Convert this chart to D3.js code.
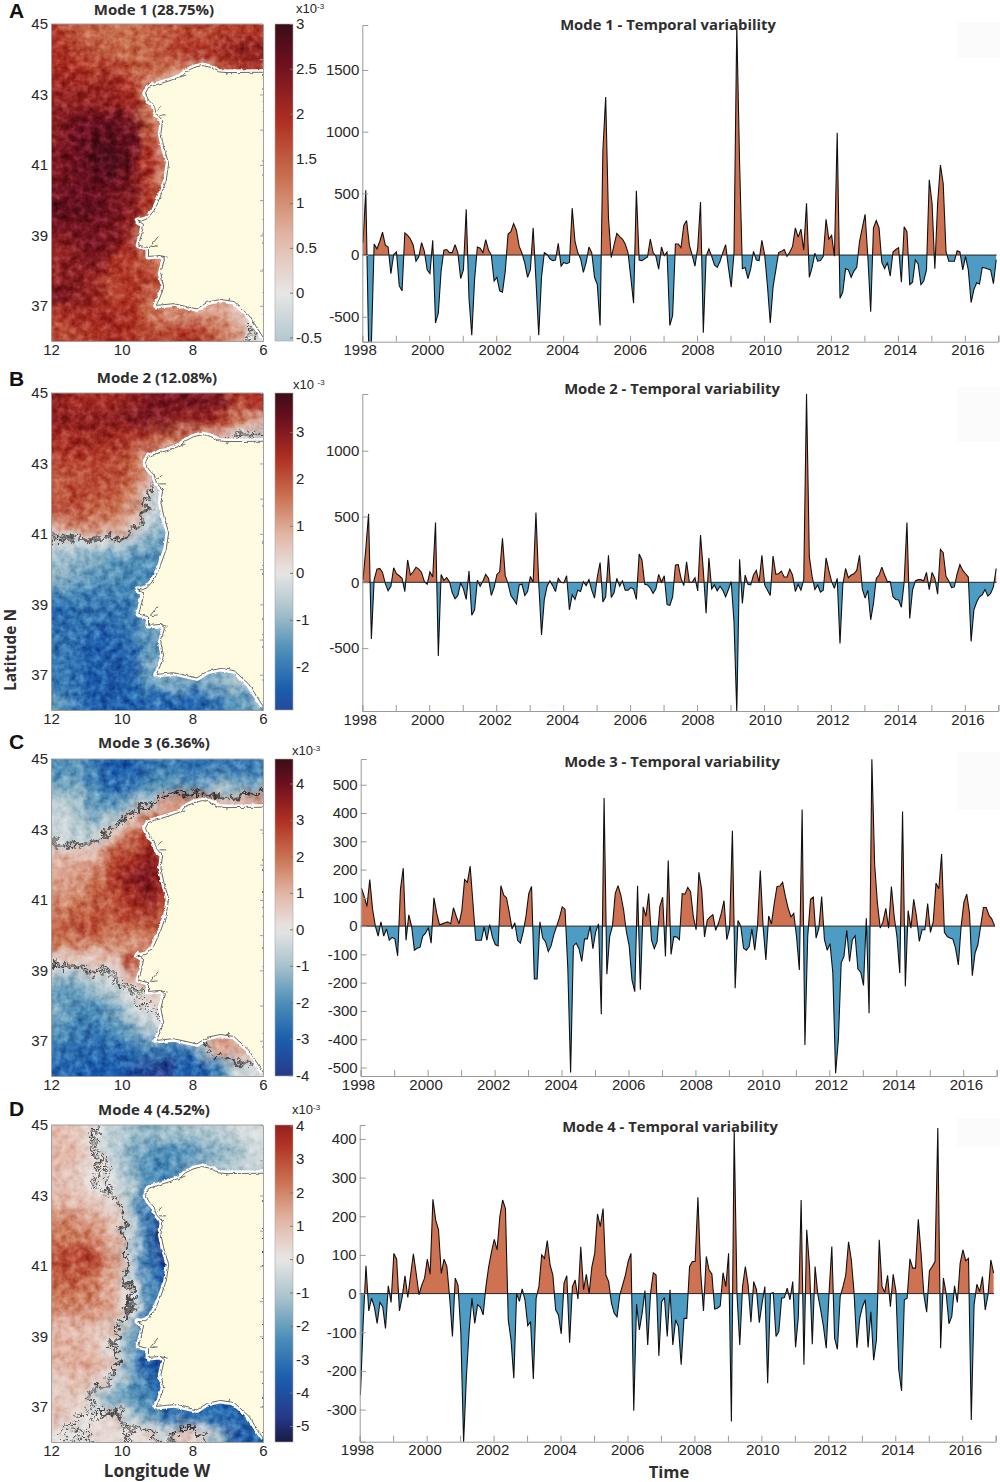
<!DOCTYPE html>
<html>
<head>
<meta charset="utf-8">
<script src="https://cdn.jsdelivr.net/npm/d3@7"></script>
<style>
  html, body { margin: 0; padding: 0; background: #fff; }
  text { font-family: "Liberation Sans", Arial, sans-serif; fill: #262626; }
  .num text { font-family: "Liberation Sans", Arial, sans-serif; font-size: 15px; }
  .bold { font-family: "Open Sans", sans-serif; font-weight: 700; fill: #2e2e2e; }
  .letter { font-family: "Liberation Sans", Arial, sans-serif; font-weight: 700; font-size: 21px; fill: #111; }
</style>
</head>
<body>
<svg id="fig" width="1000" height="1482"></svg>
<script>
// monthly temporal amplitudes, one row per year 1998-2016
const seriesA = [
  100,524,-700,-720,90,50,110,185,80,65,-150,5,
  25,-250,-290,180,160,130,80,-50,-15,100,30,-120,
  -150,120,-550,-470,-130,40,45,20,20,85,20,-190,
  -120,370,-350,-650,-200,65,55,20,125,40,0,-210,
  -180,-290,-300,-130,170,190,255,200,70,15,-65,-180,
  -120,220,-200,-650,-180,20,5,-30,-45,-40,95,-90,
  -60,-70,-60,380,110,20,-30,-140,-60,65,20,-180,
  -240,-570,850,1280,300,-20,80,175,150,130,90,20,
  -180,-390,520,-40,-45,-30,-15,130,20,-10,-115,65,
  -5,25,-570,-490,90,90,60,240,280,80,0,-90,
  60,430,-630,-10,50,-10,-80,-100,-50,20,85,-100,
  -260,20,1860,750,-110,-100,-190,-110,30,-40,-45,120,
  0,-250,-550,-260,-120,20,30,45,-10,25,70,220,
  145,210,40,420,-180,-100,15,-50,-45,-10,290,130,
  160,-10,990,-350,-300,-110,-120,-180,-130,-100,110,220,
  330,-20,-460,220,280,220,-60,-110,-60,-170,25,45,
  60,-220,230,190,-240,-220,-40,-70,-240,-210,-120,610,
  420,-110,420,730,580,30,-50,-50,-50,35,25,-120,
  -10,-120,-385,-280,-225,-235,-100,-105,-113,-120,-232,-38
];
const seriesB = [
  20,250,520,-430,20,100,105,75,-10,-65,-30,110,
  65,50,30,-70,170,55,80,115,100,75,5,-15,
  80,40,455,-560,60,15,35,5,-80,-125,-100,-5,
  -50,-130,85,-250,-210,15,-30,10,60,30,-100,-40,
  60,80,335,50,-10,-100,-130,-165,-20,-15,-100,-70,
  45,0,530,-5,-400,-130,-30,10,-25,-70,30,0,
  -5,50,-210,-95,-130,-60,-70,5,-25,20,-60,-120,
  40,150,-150,-110,205,-115,-80,30,-30,10,-60,-60,
  -40,-50,-130,215,170,-15,-20,-45,-85,-50,60,0,
  50,-170,-175,-110,130,135,30,-25,155,0,0,35,
  -65,360,90,-235,185,-50,-20,-65,-30,-60,-110,-55,
  5,-300,-985,175,-160,55,-15,-20,55,90,0,205,
  -20,-60,-100,200,60,65,85,40,40,100,55,-70,
  -15,-60,20,1430,195,45,-55,-20,-75,-60,185,90,
  5,-45,30,-465,-20,105,35,55,65,90,205,-50,
  -120,-60,-285,-160,30,55,115,55,5,5,-110,-130,
  -135,-190,0,455,-275,-60,10,20,20,10,75,-55,
  75,30,-90,250,225,45,10,-40,-35,65,135,90,
  65,40,-450,-210,-150,-110,-95,-55,-105,-85,-35,105
];
const seriesC = [
  135,105,70,165,60,0,-35,15,-35,-10,-50,-40,
  -45,-105,130,205,-50,40,0,-85,-78,-75,-35,-25,
  -5,-60,100,45,5,8,12,15,8,65,35,8,
  55,165,155,212,80,-50,-50,-50,-3,-50,5,-40,
  -65,-70,143,110,100,50,-10,12,-50,-60,-20,35,
  115,140,-187,-187,15,-42,-55,-90,-70,-30,0,30,
  68,60,-150,-518,-70,-60,-80,-125,-45,-45,0,-80,
  -20,8,-312,453,-170,-37,0,115,143,110,57,-20,
  -70,-190,-232,143,-225,68,35,115,-50,-80,-55,70,
  102,-107,232,-100,-37,-38,-48,115,113,137,122,33,
  -13,190,128,-38,22,33,40,-15,10,45,90,-48,
  -7,337,-220,20,0,-78,-85,-72,-10,-85,0,197,
  0,-120,36,8,80,140,142,155,105,63,33,45,
  -37,-155,412,-420,-37,95,103,-42,-7,105,-48,-85,
  -62,-165,-520,-400,-130,-107,-15,-125,-48,-34,-152,-163,
  -210,28,-308,590,217,80,-7,16,63,-7,140,34,
  -37,-166,405,-213,55,-7,95,34,-54,-13,-13,80,
  -22,16,152,132,255,-22,-37,-42,-45,-78,-137,0,
  85,113,46,-175,-95,-66,0,66,66,38,25,1
];
const seriesD = [
  -262,-75,72,-45,-12,-34,-77,-23,-34,-90,20,-23,
  104,89,-45,-8,46,-10,48,103,52,-3,22,40,
  89,50,244,190,165,52,89,70,-10,-111,40,22,
  -100,-385,-215,-94,-12,-77,-29,-35,-55,18,70,108,
  140,113,200,242,220,-68,-120,-219,0,-20,12,-16,
  -83,-72,-221,-12,18,100,91,137,74,48,-42,-55,
  -104,27,46,-127,18,35,-14,121,10,50,0,70,
  104,206,173,220,48,31,-25,-51,-60,-3,22,48,
  83,104,-303,-27,-94,-51,8,-133,0,54,48,-161,
  -21,-10,-111,10,-133,-68,-85,-184,-64,-64,70,83,
  83,249,53,-45,96,61,51,-40,-38,-32,54,18,
  104,-331,423,0,-133,18,70,22,-74,31,10,-75,
  -25,18,-232,0,3,-111,-98,-12,-10,14,-16,31,
  -139,-60,242,-184,165,70,-131,70,-3,-42,-85,-141,
  0,122,-115,-144,-8,18,48,134,87,0,-140,-64,
  -34,-16,-139,-47,-172,-120,139,18,3,47,-34,50,
  5,-197,-252,-16,-12,90,66,66,192,104,-3,-48,
  59,70,83,428,-141,40,0,-78,-59,20,-23,78,
  113,85,91,-327,-29,24,5,44,-42,-3,87,53
];

// spatial loadings (x10-3), 0.5 degree cells, north to south, 12W to 6W
const gridA = [
  [1.8,1.5,1.4,1.3,1.3,1.4,1.5,1.6,1.6,1.7,1.8,1.8],
  [1.9,1.7,1.5,1.4,1.3,1.4,1.6,1.9,1.9,2.0,2.2,2.2],
  [2.0,1.9,1.8,1.7,1.5,1.4,1.3,1.0,0.8,1.5,1.8,1.8],
  [2.1,2.1,2.1,2.1,1.9,1.0,0.7,0.7,0.7,0.7,0.7,0.7],
  [2.2,2.2,2.2,2.2,2.0,1.1,0.8,0.7,0.7,0.7,0.7,0.7],
  [2.3,2.5,2.6,2.6,2.5,1.3,0.8,0.7,0.7,0.7,0.7,0.7],
  [2.3,2.6,2.7,2.8,2.6,1.7,0.9,0.7,0.7,0.7,0.7,0.7],
  [2.4,2.6,2.8,2.9,2.6,1.9,0.9,0.7,0.7,0.7,0.7,0.7],
  [2.4,2.6,2.7,2.8,2.5,1.9,1.0,0.8,0.8,0.8,0.8,0.8],
  [2.5,2.6,2.6,2.5,2.4,1.8,1.0,0.8,0.8,0.8,0.8,0.8],
  [2.7,2.7,2.7,2.5,2.3,1.8,1.0,0.8,0.8,0.8,0.8,0.8],
  [2.5,2.5,2.5,2.4,2.2,1.0,0.7,0.7,0.7,0.7,0.7,0.7],
  [2.2,2.4,2.5,2.4,2.0,0.9,0.7,0.7,0.7,0.7,0.7,0.7],
  [2.2,2.3,2.4,1.9,1.8,1.5,0.9,0.8,0.8,0.8,0.8,0.8],
  [2.2,2.3,2.1,1.7,1.9,1.7,1.5,1.0,0.8,0.8,0.8,0.8],
  [2.5,2.3,2.1,1.7,1.9,1.5,1.0,1.0,0.7,0.7,0.7,0.7],
  [1.8,2.0,2.0,2.0,1.9,1.3,1.0,1.0,1.0,0.8,0.5,0.3],
  [1.6,1.7,1.9,2.0,1.9,1.7,1.6,1.9,1.7,1.4,0.8,-0.1]
];
const gridB = [
  [2.8,2.6,2.6,2.6,2.8,3.0,3.1,3.2,3.1,3.1,2.2,2.5],
  [2.8,2.8,2.8,2.9,3.0,3.1,3.0,2.7,2.7,2.3,1.4,1.0],
  [2.6,2.6,2.7,2.6,2.5,2.2,1.7,1.4,1.2,0.8,-0.1,-0.3],
  [2.2,2.4,2.3,2.2,1.8,1.1,0.7,-0.6,-0.6,-0.6,-0.6,-0.6],
  [2.0,2.1,2.1,2.1,1.8,1.2,-0.5,-1,-1,-1,-1,-1],
  [1.9,2.1,2.1,2.0,1.6,0.2,-0.9,-1,-1,-1,-1,-1],
  [2.1,2.2,1.8,1.7,1.3,-0.4,-0.7,-0.8,-0.8,-0.8,-0.8,-0.8],
  [1.0,1.4,1.4,1.3,0.5,-0.4,-1.0,-1,-1,-1,-1,-1],
  [-0.2,-0.3,-0.2,-0.3,-0.9,-1.2,-1.4,-1.2,-1.2,-1.2,-1.2,-1.2],
  [-1.0,-1.1,-1.2,-1.6,-1.5,-1.6,-1.5,-1.2,-1.2,-1.2,-1.2,-1.2],
  [-1.0,-1.3,-1.5,-1.5,-1.8,-1.8,-1.6,-1.3,-1.3,-1.3,-1.3,-1.3],
  [-1.8,-1.8,-1.9,-2.0,-1.8,-1.0,-1.0,-1,-1,-1,-1,-1],
  [-2.3,-2.1,-2.0,-2.1,-2.0,-1.1,-1.0,-1,-1,-1,-1,-1],
  [-2.1,-2.1,-2.3,-2.2,-2.0,-1.4,-1.2,-1.2,-1.2,-1.2,-1.2,-1.2],
  [-2.0,-2.2,-2.5,-2.5,-2.2,-1.5,-1.4,-1.4,-1.4,-1.4,-1.4,-1.4],
  [-2.0,-2.2,-2.4,-2.7,-2.5,-1.2,-1.1,-1.1,-1.1,-1.1,-1.1,-1.1],
  [-2.0,-2.2,-2.5,-2.6,-2.3,-1.6,-1.2,-1.3,-1.3,-1.1,-0.8,-0.6],
  [-1.5,-2.1,-2.3,-2.5,-2.4,-2.3,-2.3,-2.4,-2.3,-2.0,-1.6,-1.2]
];
const gridC = [
  [-2.0,-1.8,-2.5,-3.0,-3.0,-2.5,-2.2,-2.5,-2.6,-2.4,-2.4,-2.4],
  [-1.5,-1.5,-2.2,-2.8,-2.5,-2.0,-1.8,-2.0,-1.5,-1.2,-1.3,-1.5],
  [-0.6,-1.0,-1.8,-2.0,-1.2,-0.5,1.2,1.8,1.5,0.8,0.8,1.4],
  [-0.5,-0.8,-1.2,-0.5,0.8,1.8,2.0,1.5,1.5,1.5,1.5,1.5],
  [-0.3,-0.6,-0.5,1.0,2.0,2.8,2.3,1.5,1.5,1.5,1.5,1.5],
  [0.8,0.8,1.0,2.2,3.0,3.4,2.6,1.5,1.5,1.5,1.5,1.5],
  [1.2,1.3,1.8,3.0,3.4,3.8,3.2,2,2,2,2,2],
  [1.5,1.5,2.0,2.6,3.2,3.7,3.0,2,2,2,2,2],
  [1.6,2.0,2.3,2.4,3.0,3.3,2.4,2,2,2,2,2],
  [2.2,2.5,2.6,2.0,2.1,2.2,2.0,2,2,2,2,2],
  [2.0,1.6,1.8,1.5,1.6,1.4,1.8,1.8,1.8,1.8,1.8,1.8],
  [0.2,0.3,0.6,0.5,2.5,2.0,1.2,1.2,1.2,1.2,1.2,1.2],
  [-1.2,-1.2,-0.5,-0.2,0.6,1.8,1.0,1,1,1,1,1],
  [-1.8,-1.8,-1.5,-1.0,-0.2,0.3,0.6,0.6,0.6,0.6,0.6,0.6],
  [-1.5,-2.2,-2.2,-1.6,-0.8,-0.2,0.1,0.1,0.1,0.1,0.1,0.1],
  [-2.0,-2.3,-2.6,-2.2,-1.7,-0.8,-0.6,-0.6,1.2,1.2,1.2,1.2],
  [-2.5,-2.6,-2.8,-2.8,-2.6,-2.3,-2.4,-2.6,-1.0,1.2,1.2,1.0],
  [-2.8,-2.9,-3.0,-3.0,-3.2,-3.6,-3.8,-3.0,-3.0,-2.2,-0.5,-0.2]
];
const gridD = [
  [1.0,0.8,0.0,-0.8,-1.2,-1.5,-1.3,-1.2,-0.9,-1.0,-0.5,-0.2],
  [1.1,1.0,0.2,-0.8,-1.6,-2.0,-2.4,-2.4,-1.8,-1.5,-1.2,-0.5],
  [1.0,0.6,0.2,-0.2,-1.5,-2.4,-2.5,-2.0,-1.5,-1.2,-0.8,-0.5],
  [0.9,0.7,0.0,-0.2,-1.0,-2.2,-3.0,-2.5,-2.5,-2.5,-2.5,-2.5],
  [1.2,1.0,0.7,0.4,-1.0,-3.0,-3.6,-3,-3,-3,-3,-3],
  [2.1,1.9,1.6,0.8,-0.8,-2.8,-4.5,-3.5,-3.5,-3.5,-3.5,-3.5],
  [2.3,2.2,1.9,1.2,-0.6,-2.8,-4.8,-4,-4,-4,-4,-4],
  [3.0,3.2,3.2,1.6,-0.6,-2.9,-4.6,-3.8,-3.8,-3.8,-3.8,-3.8],
  [2.6,2.8,2.3,1.4,-0.5,-2.8,-3.6,-3.5,-3.5,-3.5,-3.5,-3.5],
  [2.3,2.3,1.9,1.2,0.0,-2.0,-3.2,-3,-3,-3,-3,-3],
  [1.9,1.9,1.8,1.6,-0.1,-2.5,-3.0,-3,-3,-3,-3,-3],
  [1.0,1.0,0.8,0.8,-1.2,-3.5,-3.5,-3.5,-3.5,-3.5,-3.5,-3.5],
  [1.2,1.2,0.8,-0.1,-2.0,-3.6,-4.2,-4,-4,-4,-4,-4],
  [1.2,1.3,1.3,0.6,-1.6,-3.5,-4.2,-4,-4,-4,-4,-4],
  [0.5,1.1,0.7,-0.3,-1.8,-3.0,-3.8,-3.8,-3.8,-3.8,-3.8,-3.8],
  [0.7,0.6,-0.4,-1.8,-2.2,-2.4,-3.5,-3.5,-3.5,-3.5,-3.5,-3.5],
  [0.9,0.2,0.0,0.5,-0.8,-1.8,-2.8,-3.0,-3.0,-3.2,-3.2,-3],
  [0.1,-0.2,0.3,0.4,0.1,0.4,-0.5,0.8,0.3,-1.5,-3.8,-3.2]
];

// coast as [lon W, lat N], from the Cantabrian edge round to the Gulf of Cadiz
const coast = [
  [6,43.63],[7.01,43.62],[7.25,43.64],[7.49,43.77],[7.71,43.82],[7.96,43.76],[8.2,43.64],[8.34,43.5],
  [8.67,43.38],[9,43.28],[9.24,43.2],[9.33,43.03],[9.24,42.84],[9.08,42.67],[9.02,42.46],[8.84,42.25],
  [8.89,41.89],[8.81,41.51],[8.67,41.04],[8.74,40.56],[8.91,40.09],[9.08,39.71],[9.28,39.47],[9.43,39.41],
  [9.55,39.43],[9.38,39.31],[9.43,39.05],[9.52,38.72],[9.24,38.65],[9.24,38.4],[8.91,38.43],[8.79,38.34],
  [8.89,37.91],[8.81,37.53],[8.91,37.25],[9.02,37.01],[8.53,37.06],[7.87,36.91],[7.58,37.1],[7.2,37.18],
  [6.82,37.12],[6.4,36.73],[6,36.11]
];
const inlets = [
  [[9,42.55],[8.86,42.66]], [[8.93,42.42],[8.74,42.42]], [[9.2,38.67],[8.97,38.96]],
  [[9.16,38.68],[8.98,38.7]], [[8.89,38.42],[8.7,38.38]], [[8.34,43.5],[8.2,43.55]],
  [[7.01,43.62],[7.03,43.55]], [[6.94,37.22],[6.97,37.15]]
];

const years = d3.range(1998, 2018);
const latTicks = [45, 43, 41, 39, 37];
const lonTicks = [12, 10, 8, 6];
const colorStops = [-1, -0.86, -0.64, -0.43, -0.21, 0, 0.21, 0.43, 0.64, 0.86, 1];
const colorRamp = ["#171b45", "#263a8a", "#1b5fae", "#4d8fb8", "#a8c3cc", "#e8e6e5", "#e2b6a6", "#c9704e", "#ae2f22", "#6b0f1f", "#3b0d16"];
const contourLevels = [-0.12, 0, 0.12];

const panels = [
  { letter: "A", letterY: 18, top: 24, grid: gridA, series: seriesA, cmin: -0.54, cmax: 3, cticks: [-0.5,0,0.5,1,1.5,2,2.5,3],
    mapTitle: "Mode 1 (28.75%)", mapTitleX: 154, mapTitleY: 14.5, tsTitle: "Mode 1 - Temporal variability", tsTitleX: 668, tsTitleY: 30,
    expo: "x10", expoY: 13, expoX: 296, x0: 362.3, x1: 998.3, zeroTop: 25, bottom: 341.7, ymin: -702, ymax: 1864, yticks: [-500,0,500,1000,1500], faint: [22,36] },
  { letter: "B", letterY: 386, top: 393, grid: gridB, series: seriesB, cmin: -2.92, cmax: 3.83, cticks: [-2,-1,0,1,2,3],
    mapTitle: "Mode 2 (12.08%)", mapTitleX: 157, mapTitleY: 383, tsTitle: "Mode 2 - Temporal variability", tsTitleX: 672, tsTitleY: 394,
    expo: "x10 ", expoY: 389, expoX: 293, x0: 362.3, x1: 998.3, zeroTop: 394, bottom: 711, ymin: -978, ymax: 1431, yticks: [-500,0,500,1000], faint: [387,55] },
  { letter: "C", letterY: 749, top: 759, grid: gridC, series: seriesC, cmin: -4.02, cmax: 4.67, cticks: [-4,-3,-2,-1,0,1,2,3,4],
    mapTitle: "Mode 3 (6.36%)", mapTitleX: 154, mapTitleY: 748, tsTitle: "Mode 3 - Temporal variability", tsTitleX: 672, tsTitleY: 767,
    expo: "x10", expoY: 755, expoX: 292, x0: 360.7, x1: 996.7, zeroTop: 759, bottom: 1076, ymin: -530, ymax: 591, yticks: [-500,-400,-300,-200,-100,0,100,200,300,400,500], faint: [752,58] },
  { letter: "D", letterY: 1116, top: 1125, grid: gridD, series: seriesD, cmin: -5.48, cmax: 4.02, cticks: [-5,-4,-3,-2,-1,0,1,2,3,4],
    mapTitle: "Mode 4 (4.52%)", mapTitleX: 154, mapTitleY: 1115, tsTitle: "Mode 4 - Temporal variability", tsTitleX: 670, tsTitleY: 1132,
    expo: "x10", expoY: 1114, expoX: 292, x0: 359.7, x1: 995.7, zeroTop: 1125, bottom: 1441.7, ymin: -383, ymax: 436, yticks: [-300,-200,-100,0,100,200,300,400], faint: [1118,29] }
];

const svg = d3.select("#fig");
const defs = svg.append("defs");
const pad = 2;

function styleAxis(g, color) {
  g.selectAll(".domain").attr("stroke", color);
  g.selectAll(".tick line").attr("stroke", color);
  g.selectAll(".tick text").attr("fill", "#262626");
}

function addMap(p, idx) {
  const left = 51, right = 263, top = p.top, bottom = p.top + 317;
  const xs = d3.scaleLinear().domain([12, 6]).range([left, right]);
  const ys = d3.scaleLinear().domain([45, 36]).range([top, bottom]);
  const vmax = d3.max([Math.abs(p.cmin), p.cmax]);
  const color = d3.scaleLinear().domain(colorStops.map(s => s * vmax)).range(colorRamp).clamp(true);

  // repeat the edge cells so blur and warp do not fade at the frame
  const nx = 12 + pad * 2, ny = 18 + pad * 2;
  const cells = [], padded = [];
  for (let r = -pad; r < 18 + pad; r++) {
    for (let c = -pad; c < 12 + pad; c++) {
      const v = p.grid[Math.max(0, Math.min(17, r))][Math.max(0, Math.min(11, c))];
      cells.push({ r, c, v });
      padded.push(v);
    }
  }

  const clipId = "mapclip" + idx;
  defs.append("clipPath").attr("id", clipId).append("rect")
    .attr("x", left).attr("y", top).attr("width", right - left).attr("height", bottom - top);

  const region = f => f.attr("filterUnits", "userSpaceOnUse").attr("x", left - 50).attr("y", top - 50)
    .attr("width", right - left + 100).attr("height", bottom - top + 100).attr("color-interpolation-filters", "sRGB");

  const heat = region(defs.append("filter").attr("id", "heat" + idx));
  heat.append("feGaussianBlur").attr("in", "SourceGraphic").attr("stdDeviation", 6).attr("result", "b");
  heat.append("feTurbulence").attr("type", "fractalNoise").attr("baseFrequency", 0.07).attr("numOctaves", 3).attr("seed", 3 + idx).attr("result", "warp");
  heat.append("feDisplacementMap").attr("in", "b").attr("in2", "warp").attr("scale", 18)
    .attr("xChannelSelector", "R").attr("yChannelSelector", "G").attr("result", "d");
  heat.append("feTurbulence").attr("type", "fractalNoise").attr("baseFrequency", 0.13).attr("numOctaves", 4).attr("seed", 11 + idx).attr("result", "n");
  heat.append("feColorMatrix").attr("in", "n").attr("type", "matrix")
    .attr("values", "1 0 0 0 0  1 0 0 0 0  1 0 0 0 0  0 0 0 0 1").attr("result", "grain");
  heat.append("feBlend").attr("mode", "soft-light").attr("in", "grain").attr("in2", "d");

  const wob = region(defs.append("filter").attr("id", "wob" + idx));
  wob.append("feTurbulence").attr("type", "fractalNoise").attr("baseFrequency", 0.07).attr("numOctaves", 3).attr("seed", 3 + idx).attr("result", "warp");
  wob.append("feDisplacementMap").attr("in", "SourceGraphic").attr("in2", "warp").attr("scale", 18)
    .attr("xChannelSelector", "R").attr("yChannelSelector", "G").attr("result", "d");
  wob.append("feTurbulence").attr("type", "fractalNoise").attr("baseFrequency", 0.17).attr("numOctaves", 3).attr("seed", 21 + idx).attr("result", "fine");
  wob.append("feDisplacementMap").attr("in", "d").attr("in2", "fine").attr("scale", 13)
    .attr("xChannelSelector", "R").attr("yChannelSelector", "G");

  const rough = region(defs.append("filter").attr("id", "rough" + idx));
  rough.append("feTurbulence").attr("type", "fractalNoise").attr("baseFrequency", 0.22).attr("numOctaves", 2).attr("seed", 5).attr("result", "t");
  rough.append("feDisplacementMap").attr("in", "SourceGraphic").attr("in2", "t").attr("scale", 3)
    .attr("xChannelSelector", "R").attr("yChannelSelector", "G");

  const clipped = svg.append("g").attr("clip-path", `url(#${clipId})`);
  const step = Math.abs(xs(11.5) - xs(12));
  clipped.append("g").attr("filter", `url(#heat${idx})`)
    .selectAll("rect").data(cells).join("rect")
    .attr("x", d => xs(12 - d.c * 0.5)).attr("y", d => ys(45 - d.r * 0.5))
    .attr("width", step + 0.5).attr("height", step + 0.5)
    .attr("fill", d => color(d.v));

  // near-zero contours of the loading field
  const contour = d3.contours().size([nx, ny]).thresholds(contourLevels)(padded);
  const project = d3.geoTransform({
    point(x, y) { this.stream.point(xs(12 - (x - pad) * 0.5), ys(45 - (y - pad) * 0.5)); }
  });
  clipped.append("g").attr("filter", `url(#wob${idx})`)
    .selectAll("path").data(contour).join("path")
    .attr("d", d3.geoPath(project)).attr("fill", "none").attr("stroke", "#1c1c1c").attr("stroke-width", 0.8);

  // land
  const coastLine = d3.line().x(d => xs(d[0])).y(d => ys(d[1]));
  const land = clipped.append("g").attr("filter", `url(#rough${idx})`);
  land.append("path").attr("d", coastLine(coast)).attr("fill", "none")
    .attr("stroke", "#fff").attr("stroke-width", 6).attr("stroke-linejoin", "round");
  land.append("path").attr("d", coastLine(coast) + "Z").attr("fill", "#fefbe0").attr("stroke", "none");
  land.append("path").attr("d", coastLine(coast)).attr("fill", "none")
    .attr("stroke", "#2a2a2a").attr("stroke-width", 0.7);
  land.selectAll(".inlet").data(inlets).join("path").attr("class", "inlet")
    .attr("d", coastLine).attr("fill", "none").attr("stroke", "#2a2a2a").attr("stroke-width", 0.7);

  // frame and axes
  const gl = svg.append("g").attr("class", "num").attr("transform", `translate(${left},0)`)
    .call(d3.axisLeft(ys).tickValues(latTicks).tickFormat(d3.format("d")).tickSize(0).tickPadding(3));
  styleAxis(gl, "#a0a0a0");
  const gb = svg.append("g").attr("class", "num").attr("transform", `translate(0,${bottom})`)
    .call(d3.axisBottom(xs).tickValues(lonTicks).tickFormat(d3.format("d")).tickSize(0).tickPadding(3));
  styleAxis(gb, "#a0a0a0");
  const gr = svg.append("g").attr("transform", `translate(${right},0)`)
    .call(d3.axisRight(ys).tickValues(d3.range(36, 46)).tickFormat("").tickSize(-3));
  styleAxis(gr, "#a0a0a0");
  svg.append("line").attr("x1", left).attr("x2", right).attr("y1", top).attr("y2", top).attr("stroke", "#a0a0a0");

  // colour bar
  const barL = 275, barR = 293;
  const cy = d3.scaleLinear().domain([p.cmin, p.cmax]).range([bottom, top]);
  const grad = defs.append("linearGradient").attr("id", "bar" + idx).attr("x1", 0).attr("x2", 0).attr("y1", 1).attr("y2", 0);
  grad.selectAll("stop").data(d3.range(0, 41)).join("stop")
    .attr("offset", d => d / 40)
    .attr("stop-color", d => color(p.cmin + (p.cmax - p.cmin) * d / 40));
  svg.append("rect").attr("x", barL).attr("y", top).attr("width", barR - barL).attr("height", bottom - top)
    .attr("fill", `url(#bar${idx})`).attr("stroke", "#a8a8a8").attr("stroke-width", 0.6);
  const gc = svg.append("g").attr("class", "num").attr("transform", `translate(${barR},0)`)
    .call(d3.axisRight(cy).tickValues(p.cticks).tickFormat(d => d).tickSize(-3).tickPadding(3));
  gc.select(".domain").remove();
  styleAxis(gc, "#777");

  const ex = svg.append("text").attr("x", p.expoX).attr("y", p.expoY).attr("font-size", 13);
  ex.append("tspan").text(p.expo);
  ex.append("tspan").attr("dy", -4).attr("font-size", 8).text("-3");

  svg.append("text").attr("class", "bold").attr("x", p.mapTitleX).attr("y", p.mapTitleY)
    .attr("text-anchor", "middle").attr("font-size", 15).text(p.mapTitle);
  svg.append("text").attr("class", "letter").attr("x", 9).attr("y", p.letterY).text(p.letter);
}

function addSeries(p, idx) {
  const x = d3.scaleLinear().domain([1998, 2017]).range([p.x0, p.x1]);
  const y = d3.scaleLinear().domain([p.ymin, p.ymax]).range([p.bottom, p.zeroTop]);
  const xt = (d, i) => x(1998 + (i + 0.25) / 12);

  svg.append("rect").attr("x", 957).attr("y", p.faint[0]).attr("width", 43).attr("height", p.faint[1]).attr("fill", "#fbfbfb");

  const pos = "pos" + idx, neg = "neg" + idx, all = "all" + idx;
  defs.append("clipPath").attr("id", pos).append("rect")
    .attr("x", p.x0).attr("y", p.zeroTop).attr("width", p.x1 - p.x0 + 2).attr("height", y(0) - p.zeroTop);
  defs.append("clipPath").attr("id", neg).append("rect")
    .attr("x", p.x0).attr("y", y(0)).attr("width", p.x1 - p.x0 + 2).attr("height", p.bottom - y(0));
  defs.append("clipPath").attr("id", all).append("rect")
    .attr("x", p.x0).attr("y", p.zeroTop).attr("width", p.x1 - p.x0 + 2).attr("height", p.bottom - p.zeroTop);

  const area = d3.area().x(xt).y0(y(0)).y1(d => y(d));
  const line = d3.line().x(xt).y(d => y(d));
  svg.append("path").attr("clip-path", `url(#${pos})`).attr("d", area(p.series)).attr("fill", "#cf7252");
  svg.append("path").attr("clip-path", `url(#${neg})`).attr("d", area(p.series)).attr("fill", "#4c9cc4");
  svg.append("path").attr("clip-path", `url(#${all})`).attr("d", line(p.series)).attr("fill", "none")
    .attr("stroke", "#111").attr("stroke-width", 1.1).attr("stroke-linejoin", "miter").attr("stroke-miterlimit", 3);
  svg.append("line").attr("x1", p.x0).attr("x2", x(2016.95)).attr("y1", y(0)).attr("y2", y(0))
    .attr("stroke", "#222").attr("stroke-width", 1);

  const gx = svg.append("g").attr("class", "num").attr("transform", `translate(0,${p.bottom})`)
    .call(d3.axisBottom(x).tickValues(years).tickFormat(d => d % 2 === 0 && d < 2017 ? d : "").tickSize(-6).tickPadding(3));
  styleAxis(gx, "#9a9a9a");
  gx.selectAll(".tick text").attr("dx", d => (d - 2007) * 0.3);
  const gy = svg.append("g").attr("class", "num").attr("transform", `translate(${p.x0},0)`)
    .call(d3.axisLeft(y).tickValues(p.yticks).tickFormat(d => d).tickSize(-6).tickPadding(3));
  styleAxis(gy, "#9a9a9a");

  svg.append("text").attr("class", "bold").attr("x", p.tsTitleX).attr("y", p.tsTitleY)
    .attr("text-anchor", "middle").attr("font-size", 14.8).text(p.tsTitle);
}

panels.forEach((p, i) => { addMap(p, i); addSeries(p, i); });

svg.append("text").attr("class", "bold").attr("font-size", 15.5).attr("text-anchor", "middle")
  .attr("transform", "translate(16,650) rotate(-90)").text("Latitude N");
svg.append("text").attr("class", "bold").attr("font-size", 17).attr("text-anchor", "middle")
  .attr("x", 157).attr("y", 1477).text("Longitude W");
svg.append("text").attr("class", "bold").attr("font-size", 16.5).attr("text-anchor", "middle")
  .attr("x", 669).attr("y", 1478).text("Time");
</script>
</body>
</html>
